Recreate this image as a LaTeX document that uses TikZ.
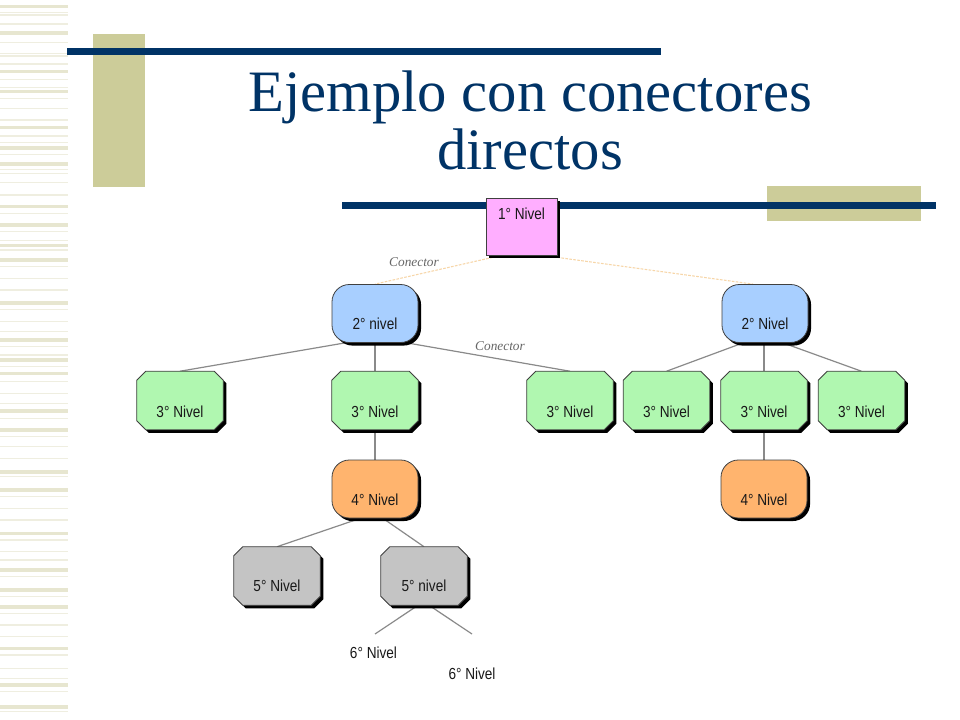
\documentclass[tikz,border=0pt]{standalone}
\usepackage{fontspec}
\setmainfont{Liberation Serif}
\newfontfamily\nodefont[FakeStretch=0.85]{Liberation Sans}
\usetikzlibrary{shadows,calc}
\pgfdeclarelayer{decor}
\pgfdeclarelayer{conn}
\pgfsetlayers{decor,conn,main}
\definecolor{navy}{HTML}{003366}
\definecolor{khaki}{HTML}{CCCC99}
\definecolor{stripeA}{HTML}{E7E6D0}
\definecolor{stripeB}{HTML}{EFEEE0}
\definecolor{pinkfill}{HTML}{FFAEFF}
\definecolor{bluefill}{HTML}{A8CFFF}
\definecolor{greenfill}{HTML}{B0F7B0}
\definecolor{orangefill}{HTML}{FFB46E}
\definecolor{grayfill}{HTML}{C4C4C4}
\definecolor{conorange}{HTML}{F7D6A8}
\definecolor{congray}{HTML}{8A8A8A}
\tikzset{
  shadowed/.style={drop shadow={shadow xshift=2.3pt, shadow yshift=-2.3pt, opacity=1, fill=black}},
  box/.style={draw=black!75, line width=0.6pt, inner sep=0pt,
    minimum width=64.5pt, minimum height=43.5pt, shadowed},
  rbox/.style={box, rectangle, rounded corners=13pt},
  hbox/.style={rectangle, draw=none, inner sep=0pt, minimum width=64.5pt, minimum height=43.5pt},
  cpath/.style={draw=black!75, line width=0.6pt, shadowed},
  lbl/.style={font=\nodefont\fontsize{12}{14}\selectfont, text=black!90, inner sep=0pt},
  conlbl/.style={font=\itshape\fontsize{10}{12}\selectfont, text=black!60, inner sep=0pt},
  graycon/.style={draw=congray, line width=0.9pt},
  orangecon/.style={draw=conorange, line width=0.8pt, dash pattern=on 2pt off 1pt},
  titletext/.style={font=\fontsize{44}{50}\selectfont, text=navy, inner sep=0pt, anchor=base}
}
% chamfered box drawn round a named hidden node: #1 name, #2 fill colour
\newcommand\chamferbox[2]{%
  \path[cpath, fill=#2]
    ($(#1.north west)+(9,0)$) -- ($(#1.north east)+(-9,0)$) --
    ($(#1.north east)+(0,9)$) -- ($(#1.south east)+(0,-9)$) --
    ($(#1.south east)+(-9,0)$) -- ($(#1.south west)+(9,0)$) --
    ($(#1.south west)+(0,-9)$) -- ($(#1.north west)+(0,9)$) -- cycle;}
\begin{document}
\begin{tikzpicture}[x=0.75pt,y=-0.75pt]
\useasboundingbox (0,0) rectangle (960,720);
\begin{pgfonlayer}{decor}
  \fill[white] (0,0) rectangle (960,720);
  % left stripes
  \foreach \y in {6.7,33.3,71.7,91.7,127.7,148.3,164,206.7,225,245.7,260,303.3,340,360,373.3,410.7,430,471.7,490,533.3,570,590,606.7,648.3,685,706.7}
    \fill[stripeA] (0,\y-1.8) rectangle (68,\y+1.8);
  \foreach \y in {12.7,15,24,42.7,53.3,56,64,79.3,87.3,98.3,108.3,120,136,142.7,154.3,169.3,173.3,182.7,195,213.3,231.7,240.7,250,266.7,278.3,290,309.3,321.7,331.7,346.7,355,366.7,381.7,393.3,403.3,418.3,436.7,446.7,458.3,476.7,496.7,508.3,520,540,551.7,560,576.7,596.7,613.3,625,636.7,655,668.3,678.3,691.7,711.7}
    \fill[stripeB] (0,\y-0.7) rectangle (68,\y+0.7);
  \fill[khaki] (93,34) rectangle (145,187);
  \fill[navy] (67,48) rectangle (661,55);
  \fill[khaki] (767,186) rectangle (921,221);
  \fill[navy] (342,202) rectangle (936,209);
\end{pgfonlayer}

\node[titletext] (title1) at (530,112) {Ejemplo con conectores};
\node[titletext] (title2) at (530,170) {directos};

% level 1
\node[box, rectangle, fill=pinkfill, minimum width=53.25pt, minimum height=42.75pt] (n1) at (521.5,226.5) {};
\node[lbl] (t1) at ($(n1.center)+(0,-13)$) {1° Nivel};
% level 2
\node[rbox, fill=bluefill] (n2a) at (375,313.5) {};
\node[lbl] (t2a) at ($(n2a.center)+(0,10)$) {2° nivel};
\node[rbox, fill=bluefill] (n2b) at (765,313.5) {};
\node[lbl] (t2b) at ($(n2b.center)+(0,10)$) {2° Nivel};
% level 3
\node[hbox] (n3a) at (180,400.5) {};
\node[hbox] (n3b) at (375,400.5) {};
\node[hbox] (n3c) at (570,400.5) {};
\node[hbox] (n3d) at (666.5,400.5) {};
\node[hbox] (n3e) at (764,400.5) {};
\node[hbox] (n3f) at (861.5,400.5) {};
\foreach \n in {n3a,n3b,n3c,n3d,n3e,n3f}{
  \chamferbox{\n}{greenfill}
  \node[lbl] (t\n) at ($(\n.center)+(0,11.5)$) {3° Nivel};
}
% level 4
\node[rbox, fill=orangefill] (n4a) at (375,489) {};
\node[lbl] (t4a) at ($(n4a.center)+(0,10.5)$) {4° Nivel};
\node[rbox, fill=orangefill] (n4b) at (764,489) {};
\node[lbl] (t4b) at ($(n4b.center)+(0,10.5)$) {4° Nivel};
% level 5
\node[hbox] (n5a) at (277,576) {};
\chamferbox{n5a}{grayfill}
\node[lbl] (t5a) at ($(n5a.center)+(0,10)$) {5° Nivel};
\node[hbox] (n5b) at (424,576) {};
\chamferbox{n5b}{grayfill}
\node[lbl] (t5b) at ($(n5b.center)+(0,10)$) {5° nivel};
% level 6
\coordinate (c6a) at (375,634);
\coordinate (c6b) at (472,634);
\node[lbl] (t6a) at (373.5,653) {6° Nivel};
\node[lbl] (t6b) at (472,674) {6° Nivel};
% connector labels
\node[conlbl] (cl1) at (414,262) {Conector};
\node[conlbl] (cl2) at (500,346) {Conector};

\begin{pgfonlayer}{conn}
  \draw[orangecon] ($(n1.south west)+(7,2)$) -- (n2a.north);
  \draw[orangecon] ($(n1.south east)+(0,2)$) -- ($(n2b.north)+(-12,0)$);
  \draw[graycon] ($(n2a.south)+(-30,0)$) -- (n3a.north);
  \draw[graycon] (n2a.south) -- (n3b.north);
  \draw[graycon] ($(n2a.south)+(32,0)$) -- (n3c.north);
  \draw[graycon] ($(n2b.south)+(-22,0)$) -- (n3d.north);
  \draw[graycon] ($(n2b.south)+(-1,0)$) -- (n3e.north);
  \draw[graycon] ($(n2b.south)+(18,0)$) -- (n3f.north);
  \draw[graycon] (n3b.south) -- (n4a.north);
  \draw[graycon] (n3e.south) -- (n4b.north);
  \draw[graycon] ($(n4a.south)+(-15,0)$) -- (n5a.north);
  \draw[graycon] ($(n4a.south)+(8,0)$) -- (n5b.north);
  \draw[graycon] ($(n5b.south)+(-6,0)$) -- (c6a);
  \draw[graycon] ($(n5b.south)+(5,0)$) -- (c6b);
\end{pgfonlayer}
\end{tikzpicture}
\end{document}
